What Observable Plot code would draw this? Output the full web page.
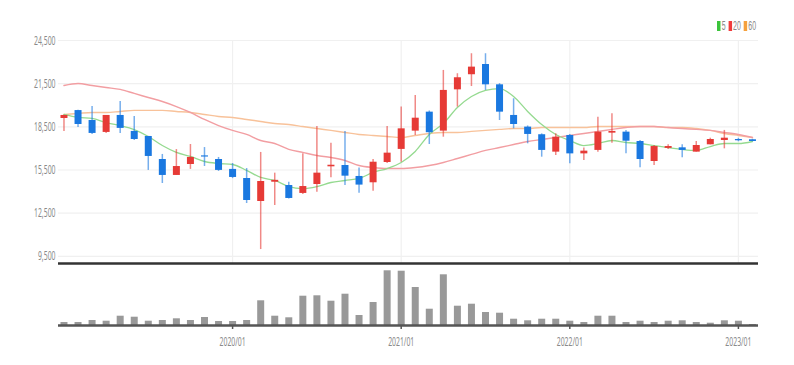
<!DOCTYPE html>
<html><head><meta charset="utf-8">
<script src="https://cdn.jsdelivr.net/npm/d3@7"></script>
<script src="https://cdn.jsdelivr.net/npm/@observablehq/plot@0.6"></script>
<style>
body{margin:0;background:#fff;}
#wrap{position:relative;width:794px;height:365px;overflow:hidden;font-family:"Liberation Sans",Arial,sans-serif;}
#price,#vol{position:absolute;left:0;}
#price{top:0}
#vol{top:265px}
#legend{position:absolute;left:717px;top:19px;font-size:12px;color:#888;transform:scaleX(0.58);transform-origin:0 0;white-space:nowrap;line-height:14px;}
.sw{display:inline-block;width:6px;height:10px;margin:0 2px 0 5px;vertical-align:-1px;}
</style></head><body>
<div id="wrap"><div id="price"></div><div id="vol"></div>
<div id="legend"><span class="sw" style="background:#3cc43c;margin-left:0"></span>5<span class="sw" style="background:#f03c3c"></span>20<span class="sw" style="background:#f5a03c"></span>60</div>
</div>
<script>
const months = ["2019/01","2019/02","2019/03","2019/04","2019/05","2019/06","2019/07","2019/08","2019/09","2019/10","2019/11","2019/12",
"2020/01","2020/02","2020/03","2020/04","2020/05","2020/06","2020/07","2020/08","2020/09","2020/10","2020/11","2020/12",
"2021/01","2021/02","2021/03","2021/04","2021/05","2021/06","2021/07","2021/08","2021/09","2021/10","2021/11","2021/12",
"2022/01","2022/02","2022/03","2022/04","2022/05","2022/06","2022/07","2022/08","2022/09","2022/10","2022/11","2022/12",
"2023/01","2023/02"];
const open  = [19080,19630,18940,18110,19290,18180,17830,16230,15120,15880,16480,16230,15540,14910,13310,14650,14420,13870,14490,15720,15810,15050,14610,16020,16930,18200,19520,18200,21070,22120,22830,21420,19290,18480,17950,16740,17900,16620,16860,18060,18130,17480,16090,17000,17040,16740,17250,17550,17620,17600];
const high  = [19300,19650,19910,19290,20260,19220,17830,16580,16920,17270,17060,16370,15950,15600,16720,15280,14650,16620,18520,17360,18180,15630,16230,18520,19870,20680,19600,22420,22190,23580,23580,21500,20450,18560,18010,18010,17970,17020,19170,19400,18250,17550,17200,17250,17250,17480,17710,18250,17700,17630];
const low   = [18180,18450,17970,18040,18040,17550,15470,14560,15120,15540,15740,15400,14900,13170,9970,13030,13480,13800,13960,14960,14420,13890,14030,15950,16040,17900,17270,17780,19870,21300,21030,18940,18360,17320,16390,16510,15930,16160,16740,17360,16620,15650,15810,16920,16350,16740,17250,16970,17460,17460];
const close = [19290,18660,18040,19290,18390,17620,16440,15120,15740,16370,16400,15470,14980,13380,14700,14780,13520,14350,15280,15830,15070,14450,16040,16670,18360,19100,18090,21030,21910,22650,21420,19520,18660,17970,16860,17780,16620,16810,18130,18180,17500,16230,17130,17130,16860,17200,17620,17710,17530,17480];
const ma5  = [19360,19150,19080,18800,18590,18310,17830,17200,16720,16440,16090,15950,15880,15470,14980,14770,14350,14210,14350,14630,14770,14910,15330,15600,16020,16790,17970,18730,19840,20610,21030,21160,20610,19570,18660,17970,17550,17200,17340,17550,17410,17340,17200,17060,16930,16860,17130,17340,17340,17480];
const ma20 = [21370,21510,21370,21230,21100,20820,20540,20260,19910,19500,19010,18590,18250,17970,17550,17340,16930,16720,16510,16370,16160,15810,15670,15600,15600,15670,15810,16020,16300,16580,16860,17060,17270,17480,17620,17760,17900,18040,18180,18320,18450,18520,18520,18450,18380,18320,18250,18110,17970,17760];
const ma60 = [19360,19430,19500,19500,19570,19640,19640,19640,19570,19500,19360,19220,19150,19010,18870,18730,18660,18520,18380,18250,18110,17970,17900,17830,17760,17900,18040,18110,18110,18180,18250,18320,18380,18380,18450,18450,18450,18450,18520,18520,18520,18520,18520,18450,18450,18380,18250,18040,17900,17760];
const volume = [300,300,500,430,930,830,430,500,670,500,800,400,400,500,2470,930,770,2930,2970,2430,3130,1000,2300,5470,5430,3800,1630,5070,1930,2130,1300,1230,630,470,630,630,430,300,930,930,300,430,300,430,470,300,230,470,430,100];
const yTicks = [9500,12500,15500,18500,21500,24500];
const xTickIdx = [12,24,36,48];

const data = months.map((m,i)=>({i, m, o:open[i], h:high[i], l:low[i], c:close[i], ma5:ma5[i], ma20:ma20[i], ma60:ma60[i], v:volume[i]}));
const RED="#e63a36", BLUE="#1a78e0";
const xDom = [-0.39, 49.43];
const up = d=>d.c>=d.o, down = d=>d.c<d.o;

const price = Plot.plot({
  width:794, height:265, marginTop:40, marginBottom:2, marginLeft:58, marginRight:36,
  x:{type:"linear", domain:xDom, axis:null},
  y:{domain:[9000,24500], axis:null},
  marks:[
    Plot.ruleY(yTicks, {stroke:"#f0f0f0", strokeWidth:1.2}),
    Plot.ruleX(xTickIdx, {stroke:"#f0f0f0", strokeWidth:1.2}),
    Plot.line(data, {x:"i", y:"ma60", stroke:"#f8c29a", strokeWidth:1.4, curve:"monotone-x"}),
    Plot.line(data, {x:"i", y:"ma20", stroke:"#f29ea2", strokeWidth:1.4, curve:"monotone-x"}),
    Plot.line(data, {x:"i", y:"ma5", stroke:"#95da90", strokeWidth:1.3, curve:"monotone-x"}),
    Plot.ruleX(data, {filter:up, x:"i", y1:"l", y2:"h", stroke:RED, strokeWidth:1.5, strokeOpacity:0.6}),
    Plot.ruleX(data, {filter:down, x:"i", y1:"l", y2:"h", stroke:BLUE, strokeWidth:1.5, strokeOpacity:0.6}),
    Plot.ruleX(data, {filter:up, x:"i", y1:"o", y2:"c", stroke:RED, strokeWidth:7}),
    Plot.ruleX(data, {filter:down, x:"i", y1:"o", y2:"c", stroke:BLUE, strokeWidth:7}),
    Plot.ruleY([9000], {stroke:"#333", strokeWidth:2.5}),
    Plot.text(yTicks, {y:d=>d, frameAnchor:"left", dx:-3, textAnchor:"end", text:d=>d3.format(",")(d), fill:"#8a8a8a", fontSize:12.5})
  ]
});

const vol = Plot.plot({
  width:794, height:100, marginTop:2, marginBottom:40, marginLeft:58, marginRight:36,
  x:{type:"linear", domain:xDom, axis:null},
  y:{domain:[0,5800], axis:null},
  marks:[
    Plot.ruleX(data, {x:"i", y1:0, y2:"v", stroke:"#999", strokeWidth:7}),
    Plot.ruleY([0], {stroke:"#555", strokeWidth:2.5}),
    Plot.ruleX(xTickIdx, {x:d=>d, y1:0, y2:-400, stroke:"#555", strokeWidth:1.5}),
    Plot.text(xTickIdx, {x:d=>d, y:0, text:d=>months[d], dy:16, fill:"#8a8a8a", fontSize:12.5})
  ]
});

function squeeze(svg, k){
  svg.querySelectorAll("text").forEach(t=>{
    const tr = t.getAttribute("transform");
    if (tr) t.setAttribute("transform", tr + ` scale(${k},1)`);
    else { const x = +(t.getAttribute("x")||0); t.setAttribute("transform", `translate(${x},0) scale(${k},1) translate(${-x},0)`); }
  });
}
squeeze(price, 0.55);
squeeze(vol, 0.55);
document.getElementById("price").appendChild(price);
document.getElementById("vol").appendChild(vol);
</script>
</body></html>
